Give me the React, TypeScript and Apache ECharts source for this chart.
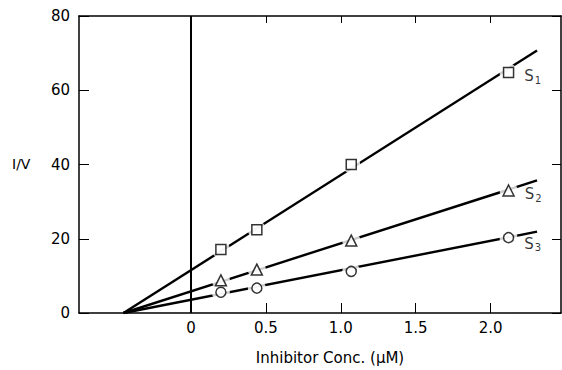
import React, { useEffect, useRef } from "react";
import * as echarts from "echarts";

const xPoints = [0.2, 0.44, 1.07, 2.12];
const s1Values = [17.1, 22.4, 40, 64.8];
const s2Values = [8.8, 11.7, 19.5, 33];
const s3Values = [5.6, 6.7, 11.2, 20.3];

const fitX = [-0.45, 2.31];
const s1Fit = [0, 70.7];
const s2Fit = [0, 35.7];
const s3Fit = [0, 21.9];

const xTickValues = [0.5, 1, 1.5, 2];
const xLabelValues = [0, 0.5, 1, 1.5, 2];
const seriesNames = ["1", "2", "3"];

const FONT = "DejaVu Sans";

export default function App() {
  const ref = useRef<HTMLDivElement>(null);
  useEffect(() => {
    const chart = echarts.init(ref.current!, null, { renderer: "svg" });
    const pts = (vals: number[]) => xPoints.map((x, i) => [x, vals[i]]);
    const fit = (vals: number[]) => fitX.map((x, i) => [x, vals[i]]);
    const symbols = ["rect", "triangle", "circle"];
    const sizes = [10, 11, 10];
    const allVals = [s1Values, s2Values, s3Values];
    const fits = [s1Fit, s2Fit, s3Fit];
    const series: any[] = [];
    fits.forEach((f, k) => {
      series.push({
        type: "line",
        data: fit(f),
        symbol: "none",
        lineStyle: { color: "#000", width: 2.4 },
        z: 2,
        ...(k === 0
          ? {
              markLine: {
                silent: true,
                symbol: "none",
                label: { show: false },
                lineStyle: { color: "#000", width: 2, type: "solid" },
                data: [{ xAxis: 0 }],
              },
            }
          : {}),
      });
    });
    allVals.forEach((v) => {
      series.push({
        type: "scatter",
        data: pts(v),
        symbol: "circle",
        symbolSize: 18,
        itemStyle: { color: "#fff", borderWidth: 0 },
        z: 3,
      });
    });
    allVals.forEach((v, k) => {
      series.push({
        type: "scatter",
        data: pts(v),
        symbol: symbols[k],
        symbolSize: sizes[k],
        itemStyle: { color: "#fff", borderColor: "#000", borderWidth: 1.5 },
        z: 4,
        label: {
          show: true,
          position: "right",
          distance: 10,
          offset: [0, k === 2 ? 6 : 4],
          formatter: (p: any) =>
            p.dataIndex === xPoints.length - 1 ? `{s|S}{sub|${seriesNames[k]}}` : "",
          rich: {
            s: { fontFamily: FONT, fontSize: 15, color: "#000" },
            sub: { fontFamily: FONT, fontSize: 10, color: "#000", padding: [8, 0, 0, 1] },
          },
        },
      });
    });
    chart.setOption({
      animation: false,
      backgroundColor: "#fff",
      grid: { left: 79, right: 1, top: 16, bottom: 54, containLabel: false },
      xAxis: [
        {
          type: "value",
          min: -0.747,
          max: 2.47,
          position: "bottom",
          axisLine: { show: true, onZero: false, lineStyle: { color: "#000", width: 1.5 } },
          axisTick: { show: true, inside: true, length: 10, customValues: xTickValues, lineStyle: { color: "#000", width: 1 } },
          axisLabel: {
            show: true,
            customValues: xLabelValues,
            margin: 7,
            color: "#000",
            fontFamily: FONT,
            fontSize: 15,
            formatter: (v: number) => (v === 0 ? "0" : v.toFixed(1)),
          },
          splitLine: { show: false },
          name: "Inhibitor Conc. (\u03bcM)",
          nameLocation: "middle",
          nameGap: 37,
          nameTextStyle: { color: "#000", fontFamily: FONT, fontSize: 15, padding: [0, 0, 0, 20] },
        },
        {
          type: "value",
          min: -0.747,
          max: 2.47,
          position: "top",
          axisLine: { show: true, onZero: false, lineStyle: { color: "#000", width: 1.5 } },
          axisTick: { show: true, inside: true, length: 7, customValues: xTickValues, lineStyle: { color: "#000", width: 1 } },
          axisLabel: { show: false },
          splitLine: { show: false },
        },
      ],
      yAxis: [
        {
          type: "value",
          min: 0,
          max: 80,
          interval: 20,
          position: "left",
          axisLine: { show: true, onZero: false, lineStyle: { color: "#000", width: 1.5 } },
          axisTick: { show: true, inside: true, length: 10, lineStyle: { color: "#000", width: 1 } },
          axisLabel: { color: "#000", fontFamily: FONT, fontSize: 15, margin: 9 },
          splitLine: { show: false },
        },
        {
          type: "value",
          min: 0,
          max: 80,
          interval: 20,
          position: "right",
          axisLine: { show: true, onZero: false, lineStyle: { color: "#000", width: 1.5 } },
          axisTick: { show: true, inside: true, length: 9, lineStyle: { color: "#000", width: 1 } },
          axisLabel: { show: false },
          splitLine: { show: false },
        },
      ],
      graphic: [
        {
          type: "text",
          left: 12,
          top: 157,
          style: { text: "I/V", fill: "#000", font: `14px "${FONT}"` },
        },
      ],
      series,
    });
    return () => chart.dispose();
  }, []);
  return <div ref={ref} style={{ width: 562, height: 370, position: "absolute", left: 0, top: 0 }} />;
}
